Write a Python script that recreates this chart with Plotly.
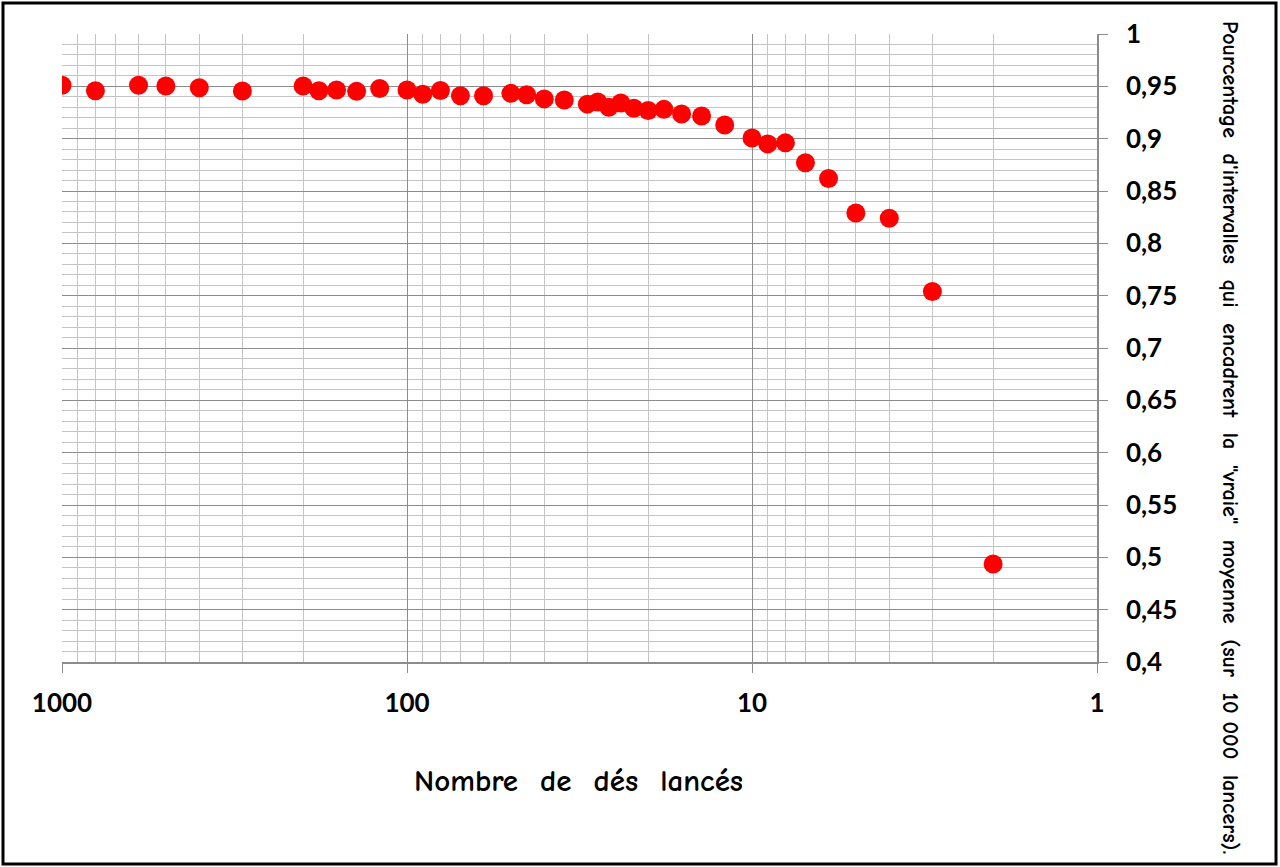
import plotly.graph_objects as go

# Data
nb_des = [1000, 800, 600, 500, 400, 300, 200, 180, 160, 140, 120, 100, 90, 80, 70, 60,
          50, 45, 40, 35, 30, 28, 26, 24, 22, 20, 18, 16, 14, 12, 10, 9, 8, 7, 6, 5, 4, 3, 2]
pourcentage = [0.951, 0.9458, 0.951, 0.9503, 0.9487, 0.9455, 0.9503, 0.9458, 0.9465, 0.9452,
               0.948, 0.9465, 0.9424, 0.946, 0.941, 0.941, 0.9433, 0.942, 0.938, 0.937,
               0.933, 0.935, 0.930, 0.934, 0.929, 0.927, 0.928, 0.9235, 0.9216, 0.913,
               0.9006, 0.895, 0.896, 0.877, 0.862, 0.829, 0.824, 0.754, 0.4936]

x_tickvals = [1000, 100, 10, 1]
x_ticktext = ["1000", "100", "10", "1"]
x_minor = [m * 10 ** k for k in range(0, 3) for m in range(2, 10)]

y_tickvals = [round(0.4 + 0.05 * i, 2) for i in range(13)]
y_ticktext = ["0,4", "0,45", "0,5", "0,55", "0,6", "0,65", "0,7", "0,75", "0,8", "0,85",
              "0,9", "0,95", "1"]
y_minor = [round(0.4 + 0.01 * i, 2) for i in range(61)]

x_title = "Nombre  de  dés  lancés"
y_title = "Pourcentage  d'intervalles  qui  encadrent  la  \"vraie\"  moyenne  (sur  10 000  lancers)."

tick_font = dict(family="Lato, Open Sans, sans-serif", size=26, color="black", weight="bold")
title_font_family = "Comic Sans MS, Comic Neue, DejaVu Sans, sans-serif"

fig = go.Figure()
fig.add_trace(go.Scatter(
    x=nb_des, y=pourcentage, mode="markers",
    marker=dict(color="#ff0000", size=19, line=dict(width=0)),
    showlegend=False, hoverinfo="x+y",
))

fig.update_layout(
    width=1280, height=867,
    margin=dict(l=62, r=183, t=34, b=205),
    paper_bgcolor="white", plot_bgcolor="white",
    xaxis=dict(
        type="log", range=[3, 0],
        tickmode="array", tickvals=x_tickvals, ticktext=x_ticktext,
        tickfont=tick_font,
        ticks="outside", ticklen=9, tickcolor="#8c8c8c", tickwidth=1,
        showgrid=True, gridcolor="#8c8c8c", gridwidth=1,
        showline=True, linecolor="#8c8c8c", linewidth=1.5,
        zeroline=False,
        ticklabelstandoff=8,
        minor=dict(tickmode="array", tickvals=x_minor, showgrid=True,
                   gridcolor="#c4c4c4", gridwidth=1, ticks=""),
    ),
    yaxis=dict(
        side="right", range=[0.4, 1],
        tickmode="array", tickvals=y_tickvals, ticktext=y_ticktext,
        tickfont=tick_font,
        ticks="outside", ticklen=9, tickcolor="#8c8c8c", tickwidth=1,
        showgrid=True, gridcolor="#8c8c8c", gridwidth=1,
        showline=True, linecolor="#8c8c8c", linewidth=1.5,
        zeroline=False,
        ticklabelstandoff=13,
        minor=dict(tickmode="array", tickvals=y_minor, showgrid=True,
                   gridcolor="#c4c4c4", gridwidth=1, ticks=""),
    ),
    annotations=[
        dict(text=x_title, xref="paper", yref="paper", x=(578 - 62) / 1035, y=(662 - 781) / 628,
             showarrow=False, xanchor="center", yanchor="middle",
             font=dict(family=title_font_family, size=31, color="black", weight="bold")),
        dict(text=y_title, xref="paper", yref="paper", x=(1230 - 62) / 1035, y=(662 - 437) / 628,
             showarrow=False, xanchor="center", yanchor="middle", textangle=90,
             font=dict(family=title_font_family, size=22, color="black", weight="bold")),
    ],
    shapes=[
        dict(type="rect", xref="paper", yref="paper",
             x0=(3 - 62) / 1035, x1=(1276 - 62) / 1035,
             y0=(662 - 864) / 628, y1=(662 - 3) / 628,
             line=dict(color="black", width=3), fillcolor="rgba(0,0,0,0)", layer="below"),
    ],
)

fig.write_html("out.html", config={"displayModeBar": False},
               post_script="document.body.style.margin='0';")
